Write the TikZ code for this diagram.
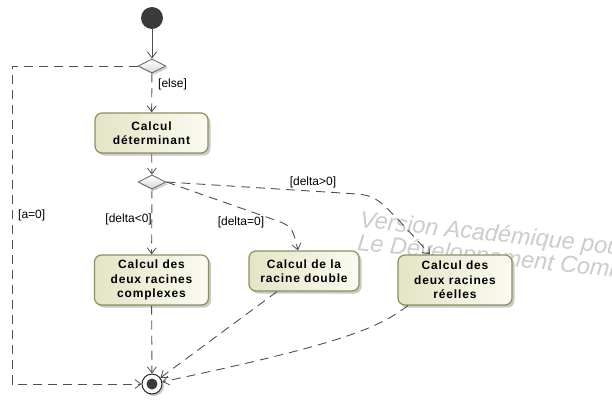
\documentclass[tikz,border=0pt]{standalone}
\usepackage{fontspec}
\setmainfont{Liberation Sans}
\newfontfamily\boxfont[LetterSpace=7]{Liberation Sans}
\usetikzlibrary{arrows.meta,shadows,shapes.geometric}

\definecolor{lineclr}{HTML}{505050}
\definecolor{boxedge}{HTML}{8E8E62}
\definecolor{boxfillA}{HTML}{E4E4C6}
\definecolor{boxfillB}{HTML}{FBFBF2}
\definecolor{wmark}{HTML}{CCCCCC}
\definecolor{dotclr}{HTML}{3A3A3A}

\tikzset{
  flow/.style={draw=lineclr, line width=0.9pt, dash pattern=on 9pt off 6pt,
    -{Straight Barb[length=6pt,width=9pt,line width=0.8pt]}},
  guard/.style={font=\fontsize{12}{14}\selectfont, text=black, inner sep=1pt},
  action/.style={rounded corners=7pt, draw=boxedge, line width=1.2pt,
    left color=boxfillA, right color=boxfillB, align=center,
    font=\boxfont\fontsize{12}{14.3}\bfseries\selectfont, inner sep=2pt,
    drop shadow={shadow xshift=2.5pt, shadow yshift=-2.5pt, opacity=0.35, fill=black!60}},
  decision/.style={diamond, draw=dotclr!80, line width=0.8pt, inner sep=0pt,
    minimum width=28pt, minimum height=14pt, shape aspect=2,
    top color=white, bottom color=black!15,
    drop shadow={shadow xshift=2pt, shadow yshift=-2pt, opacity=0.3, fill=black!60}},
  initial/.style={circle, fill=dotclr, inner sep=0pt, minimum size=22pt},
  finalring/.style={circle, draw=black!85, fill=white, line width=1pt, inner sep=0pt,
    minimum size=20pt,
    drop shadow={shadow xshift=2pt, shadow yshift=-2pt, opacity=0.35, fill=black!60}},
}

\begin{document}
\begin{tikzpicture}[x=1pt, y=-1pt]
  \useasboundingbox (0,0) rectangle (612,399);
  \fill[white] (0,0) rectangle (612,399);

  % watermark, behind everything else
  \begin{scope}
    \clip (0,0) rectangle (612,399);
    \node[anchor=north west, rotate=-6, text=wmark, align=left,
      font=\fontsize{23.5}{23}\itshape\selectfont, inner sep=0pt]
      (wm) at (361,210) {Version Académique pour\\Le Développement Commercial};
  \end{scope}

  % nodes
  \node[initial] (start) at (152,18) {};
  \node[decision] (d1) at (152,66) {};
  \node[action, minimum width=113pt, minimum height=40pt] (det) at (151.5,133)
    {Calcul\\déterminant};
  \node[decision] (d2) at (152,182) {};
  \node[action, minimum width=114pt, minimum height=50pt] (cplx) at (151.5,280)
    {Calcul des\\deux racines\\complexes};
  \node[action, minimum width=110pt, minimum height=40pt] (dbl) at (304,271)
    {Calcul de la\\racine double};
  \node[action, minimum width=114pt, minimum height=50pt] (reel) at (455,280)
    {Calcul des\\deux racines\\réelles};
  \node[finalring] (end) at (152,384) {};
  \fill[dotclr] (end) circle (5.5pt);

  \coordinate (lefttop) at (12,66);
  \coordinate (leftbot) at (12,384);
  \coordinate (bendz) at (272,219);
  \coordinate (bendp) at (358,194);

  % connectors
  \draw[flow, solid] (start) -- (d1);
  \draw[flow] (d1) -- (det);
  \node[guard, anchor=west] (le) at (157,84) {[else]};
  \draw[flow] (d1.west) -- (lefttop) -- (leftbot) -- (end.west);
  \node[guard, anchor=west] (la) at (17,215) {[a=0]};
  \draw[flow] (det) -- (d2);
  \draw[flow] (d2) -- (cplx);
  \node[guard, anchor=east] (ln) at (153,219) {[delta<0]};
  \draw[flow] (d2.east) -- (bendz) .. controls (292,226) .. ([xshift=-6pt]dbl.north);
  \node[guard] (lz) at (241,222) {[delta=0]};
  \draw[flow] (d2.east) -- (bendp) .. controls (378,197) .. ([xshift=-25pt]reel.north);
  \node[guard] (lp) at (313,182) {[delta>0]};
  \draw[flow] (cplx) -- (end);
  \draw[flow] ([xshift=-27pt]dbl.south) -- (end);
  \draw[flow] ([xshift=-47pt]reel.south) .. controls (378,328) and (345,343) .. (end);
\end{tikzpicture}
\end{document}
